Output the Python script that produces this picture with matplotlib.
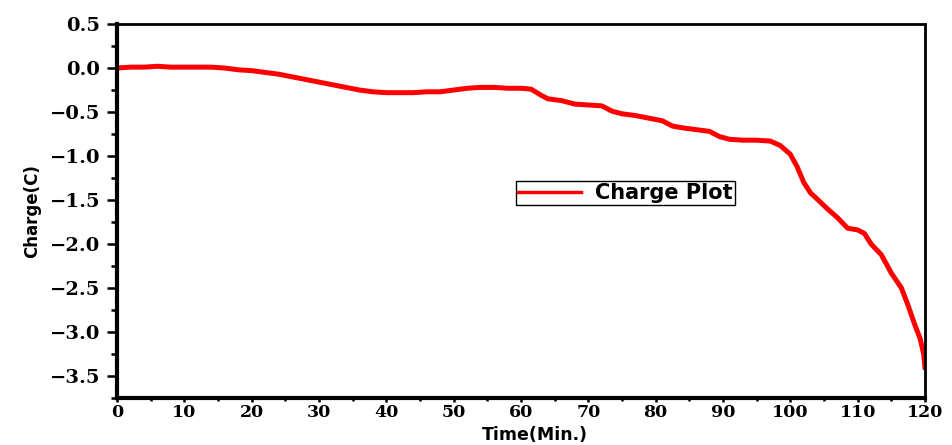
import matplotlib
matplotlib.use('Agg')
import matplotlib.pyplot as plt
from matplotlib.ticker import MultipleLocator

# Charge measured over time (minutes -> coulombs)
time_min = [0, 2, 4, 6, 8, 10, 12, 14, 16, 18, 20, 22, 24, 26, 28, 30, 32, 34,
            36, 38, 40, 42, 44, 46, 48, 50, 52, 54, 56, 58, 60, 61.5, 63, 64,
            66, 68, 70, 72, 73.5, 75, 77, 79, 81, 82.5, 84, 86, 88, 89.5, 91,
            93, 95, 97, 98.5, 100, 101, 102, 103, 104, 105.5, 107, 108.5, 110,
            111, 112, 113.5, 115, 116.5, 117.5, 118.5, 119.3, 119.8, 120]
charge = [0.00, 0.01, 0.01, 0.02, 0.01, 0.01, 0.01, 0.01, 0.00, -0.02, -0.03,
          -0.05, -0.07, -0.10, -0.13, -0.16, -0.19, -0.22, -0.25, -0.27, -0.28,
          -0.28, -0.28, -0.27, -0.27, -0.25, -0.23, -0.22, -0.22, -0.23, -0.23,
          -0.24, -0.31, -0.35, -0.37, -0.41, -0.42, -0.43, -0.49, -0.52, -0.54,
          -0.57, -0.60, -0.66, -0.68, -0.70, -0.72, -0.78, -0.81, -0.82, -0.82,
          -0.83, -0.88, -0.98, -1.12, -1.30, -1.42, -1.49, -1.60, -1.70, -1.82,
          -1.84, -1.88, -2.00, -2.12, -2.33, -2.50, -2.70, -2.92, -3.08, -3.25,
          -3.40]

fig = plt.figure(figsize=(9.53, 4.45), dpi=100)
ax = fig.add_axes([0.1228, 0.1056, 0.8478, 0.8404])

ax.plot(time_min, charge, color='#ff0000', linewidth=3.6, label='Charge Plot')

ax.set_xlim(0, 120)
ax.set_ylim(-3.75, 0.5)
ax.xaxis.set_major_locator(MultipleLocator(10))
ax.xaxis.set_minor_locator(MultipleLocator(5))
ax.yaxis.set_major_locator(MultipleLocator(0.5))
ax.yaxis.set_minor_locator(MultipleLocator(0.25))

# Heavy frame, outward ticks
for side in ('left', 'bottom'):
    ax.spines[side].set_linewidth(3)
for side in ('top', 'right'):
    ax.spines[side].set_linewidth(2)
ax.tick_params(axis='y', which='major', length=7, width=1.8, pad=5, direction='out')
ax.tick_params(axis='y', which='minor', length=4, width=1.8, direction='out')
ax.tick_params(axis='x', which='major', length=3, width=1.8, pad=1.5, direction='out')
ax.tick_params(axis='x', which='minor', length=2.5, width=1.8, direction='out')

for lbl in ax.get_yticklabels():
    lbl.set_fontfamily('DejaVu Serif')
    lbl.set_fontweight('bold')
    lbl.set_fontsize(14)
for lbl in ax.get_xticklabels():
    lbl.set_fontfamily('DejaVu Serif')
    lbl.set_fontweight('bold')
    lbl.set_fontsize(12.5)

ax.set_xlabel('Time(Min.)', fontfamily='DejaVu Sans', fontweight='bold', fontsize=12.5)
ax.set_ylabel('Charge(C)', fontfamily='DejaVu Sans', fontweight='bold', fontsize=12)
ax.xaxis.set_label_coords(0.517, -0.074)
ax.yaxis.set_label_coords(-0.094, 0.5)

leg = ax.legend(loc='lower left', bbox_to_anchor=(0.494, 0.515),
                prop={'family': 'DejaVu Sans', 'weight': 'bold', 'size': 15},
                frameon=True, fancybox=False, framealpha=1, edgecolor='black',
                borderpad=0.1, handlelength=3.0, handletextpad=0.7,
                borderaxespad=0)
leg.get_frame().set_linewidth(1.0)
for line in leg.get_lines():
    line.set_linewidth(2.5)

fig.savefig('out.png', dpi=100)
